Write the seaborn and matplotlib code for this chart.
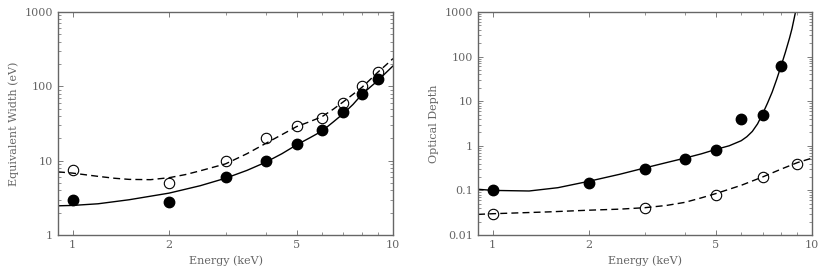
import pandas as pd
import matplotlib
matplotlib.use("Agg")
import matplotlib.pyplot as plt
import matplotlib.ticker as mticker
import seaborn as sns

# left panel: equivalent width
ew_energy = [1, 2, 3, 4, 5, 6, 7, 8, 9]
ew_filled = [3.0, 2.75, 6.0, 10.0, 17.0, 26.0, 45.0, 80.0, 125.0]
ew_open = [7.5, 5.0, 10.0, 20.0, 29.0, 38.0, 60.0, 102.0, 155.0]

ew_solid_x = [0.9, 1.0, 1.2, 1.5, 2.0, 2.5, 3.0, 3.5, 4.0, 4.5, 5.0, 5.5, 6.0, 6.5, 7.0, 7.5, 8.0, 8.5, 9.0, 9.5, 10.0]
ew_solid = [2.47, 2.5, 2.63, 2.98, 3.66, 4.6, 5.8, 7.4, 9.5, 12.4, 16.3, 20.3, 25.0, 33.0, 43.0, 57.0, 78.0, 98.0, 121.0, 152.0, 188.0]
ew_dashed_x = [0.9, 1.0, 1.1, 1.2, 1.35, 1.5, 1.75, 2.0, 2.25, 2.5, 3.0, 3.5, 4.0, 4.5, 5.0, 5.5, 6.0, 6.5, 7.0, 7.5, 8.0, 8.5, 9.0, 9.5, 10.0]
ew_dashed = [7.07, 6.8, 6.45, 6.15, 5.8, 5.6, 5.55, 5.9, 6.5, 7.3, 9.05, 12.4, 17.0, 22.4, 28.7, 33.5, 39.0, 49.0, 62.0, 78.0, 97.0, 124.0, 157.0, 193.0, 236.0]

# right panel: optical depth
od_energy_filled = [1, 2, 3, 4, 5, 6, 7, 8]
od_filled = [0.1, 0.15, 0.3, 0.5, 0.8, 4.0, 5.0, 60.0]
od_energy_open = [1, 3, 5, 7, 9]
od_open = [0.03, 0.04, 0.08, 0.2, 0.4]

od_solid_x = [0.9, 1.0, 1.3, 1.6, 2.0, 2.5, 3.0, 3.5, 4.0, 4.5, 5.0, 5.5, 6.0, 6.25, 6.5, 6.75, 7.0, 7.25, 7.5, 7.75, 8.0, 8.25, 8.5, 8.65, 8.8, 8.9]
od_solid = [0.106, 0.1, 0.097, 0.115, 0.16, 0.23, 0.32, 0.42, 0.53, 0.66, 0.83, 1.0, 1.3, 1.6, 2.1, 3.1, 5.2, 9.0, 16.0, 31.0, 62.0, 125.0, 260.0, 420.0, 750.0, 1100.0]
od_dashed_x = [0.9, 1.0, 1.5, 2.0, 2.5, 3.0, 3.5, 4.0, 4.5, 5.0, 6.0, 7.0, 8.0, 9.0, 10.0]
od_dashed = [0.029, 0.030, 0.033, 0.036, 0.038, 0.041, 0.046, 0.054, 0.068, 0.085, 0.13, 0.2, 0.3, 0.42, 0.53]

sns.set_style("ticks")
plt.rcParams["font.family"] = ["DejaVu Serif"]
grey = "#666666"

fig = plt.figure(figsize=(8.3, 2.72), dpi=100)
ax1 = fig.add_axes([0.0699, 0.136, 0.4036, 0.820])
ax2 = fig.add_axes([0.576, 0.136, 0.4024, 0.820])

# left
sns.lineplot(x=ew_solid_x, y=ew_solid, ax=ax1, color="black", lw=1.0, sort=False)
sns.lineplot(x=ew_dashed_x, y=ew_dashed, ax=ax1, color="black", lw=1.0, sort=False)
ax1.lines[-1].set_dashes((5, 3))
ax1.plot(ew_energy, ew_filled, "o", color="black", ms=7.5, ls="none")
ax1.plot(ew_energy, ew_open, "o", mfc="none", mec="black", mew=0.8, ms=7.5, ls="none")
ax1.set_ylim(1, 1000)
ax1.set_yticks([1, 10, 100, 1000])
ax1.set_ylabel("Equivalent Width (eV)", color=grey, fontsize=8)

# right
sns.lineplot(x=od_solid_x, y=od_solid, ax=ax2, color="black", lw=1.0, sort=False)
sns.lineplot(x=od_dashed_x, y=od_dashed, ax=ax2, color="black", lw=1.0, sort=False)
ax2.lines[-1].set_dashes((5, 3))
ax2.plot(od_energy_filled, od_filled, "o", color="black", ms=7.5, ls="none")
ax2.plot(od_energy_open, od_open, "o", mfc="none", mec="black", mew=0.8, ms=7.5, ls="none")
ax2.set_ylim(0.01, 1000)
ax2.set_yticks([0.01, 0.1, 1, 10, 100, 1000])
ax2.set_ylabel("Optical Depth", color=grey, fontsize=8)

for ax in (ax1, ax2):
    ax.set_xscale("log")
    ax.set_yscale("log")
    ax.set_xlim(0.9, 10)
    ax.set_xticks([1, 2, 5, 10])
    ax.xaxis.set_major_formatter(mticker.FuncFormatter(lambda v, p: "%g" % v))
    ax.yaxis.set_major_formatter(mticker.FuncFormatter(lambda v, p: "%g" % v))
    ax.xaxis.set_minor_formatter(mticker.NullFormatter())
    ax.set_xlabel("Energy (keV)", color=grey, fontsize=8)
    ax.tick_params(which="both", direction="in", top=True, right=True, colors=grey, labelsize=8)
    ax.tick_params(which="major", length=3.5, width=0.6)
    ax.tick_params(which="minor", length=2, width=0.5)
    for s in ax.spines.values():
        s.set_color(grey)
        s.set_linewidth(1.0)

fig.savefig("out.png", dpi=100)
